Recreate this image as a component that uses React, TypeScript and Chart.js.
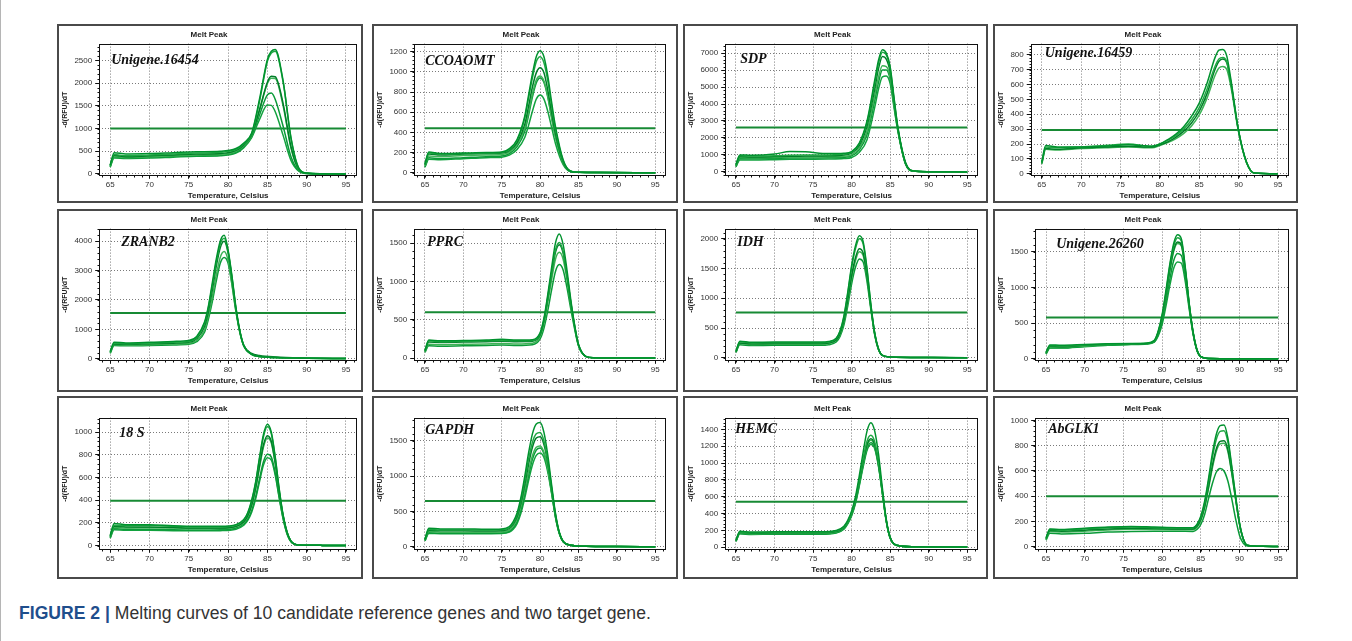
import React, { useEffect, useRef } from 'react';
import { Chart, registerables } from 'chart.js';

Chart.register(...registerables);

const FONT = '"Liberation Sans", Arial, sans-serif';
const SERIF = '"Liberation Serif", "Times New Roman", serif';

const X_TICKS = [65, 70, 75, 80, 85, 90, 95];
const X_RANGE = [63.6, 96.4];
const THRESHOLD_SPAN = [65, 95];

// ---------- Panel 1: Unigene.16454 ----------
const GENE_1 = 'Unigene.16454';
const TEMPS_1 = [65, 65.5, 67, 70, 73, 76, 79, 81, 82, 83, 84, 85, 85.5, 86, 87, 88, 89, 90, 92, 95];
const CURVES_1 = [
  [200, 470, 440, 450, 470, 490, 500, 560, 680, 900, 1650, 2520, 2700, 2740, 2050, 800, 130, 20, 5, 0],
  [180, 430, 400, 420, 440, 460, 480, 540, 660, 880, 1600, 2480, 2660, 2700, 2020, 780, 120, 20, 5, 0],
  [190, 410, 380, 400, 420, 440, 450, 520, 640, 860, 1420, 2020, 2150, 2140, 1550, 600, 100, 15, 5, 0],
  [170, 390, 360, 380, 400, 420, 430, 500, 620, 840, 1400, 1990, 2110, 2100, 1500, 570, 90, 15, 5, 0],
  [160, 380, 350, 370, 390, 400, 410, 480, 600, 820, 1300, 1740, 1780, 1640, 1050, 380, 70, 10, 5, 0],
  [150, 350, 340, 350, 370, 390, 400, 460, 580, 800, 1200, 1520, 1510, 1370, 850, 300, 60, 10, 5, 0],
];
const THRESHOLD_1 = 1000;
const Y_TICKS_1 = [0, 500, 1000, 1500, 2000, 2500];
const Y_RANGE_1 = [-40, 2870];

// ---------- Panel 2: CCOAOMT ----------
const GENE_2 = 'CCOAOMT';
const TEMPS_2 = [65, 65.5, 67, 70, 73, 75, 76, 77, 78, 78.5, 79, 79.5, 80, 80.5, 81, 81.5, 82, 83, 84, 85, 88, 95];
const CURVES_2 = [
  [90, 205, 190, 195, 200, 205, 240, 330, 560, 770, 980, 1150, 1210, 1150, 960, 700, 460, 130, 15, 5, 2, 0],
  [85, 195, 185, 190, 195, 200, 230, 320, 540, 740, 940, 1100, 1150, 1090, 910, 660, 430, 120, 15, 5, 2, 0],
  [80, 185, 175, 185, 190, 195, 220, 300, 480, 660, 850, 990, 1040, 990, 820, 600, 390, 110, 12, 5, 2, 0],
  [70, 165, 160, 170, 175, 180, 205, 280, 440, 600, 780, 920, 960, 910, 760, 550, 360, 100, 12, 5, 2, 0],
  [60, 150, 140, 150, 160, 165, 190, 260, 410, 570, 750, 890, 940, 895, 750, 545, 355, 100, 12, 5, 2, 0],
  [55, 135, 130, 140, 150, 155, 175, 230, 350, 470, 610, 730, 770, 730, 610, 450, 290, 80, 10, 4, 2, 0],
];
const THRESHOLD_2 = 440;
const Y_TICKS_2 = [0, 200, 400, 600, 800, 1000, 1200];
const Y_RANGE_2 = [-30, 1280];

// ---------- Panel 3: SDP ----------
const GENE_3 = 'SDP';
const TEMPS_3 = [65, 65.5, 67, 70, 72, 74, 77, 79, 80, 81, 82, 83, 83.5, 84, 84.5, 85, 85.5, 86, 87, 88, 90, 95];
const CURVES_3 = [
  [450, 1000, 980, 1050, 1200, 1180, 1080, 1100, 1200, 1700, 3000, 5400, 6600, 7200, 7000, 6200, 4400, 2650, 550, 60, 10, 0],
  [400, 950, 930, 950, 980, 990, 1000, 1050, 1150, 1650, 2900, 5200, 6400, 7050, 6900, 6100, 4300, 2600, 520, 55, 10, 0],
  [380, 900, 880, 900, 920, 930, 950, 1000, 1100, 1550, 2700, 4900, 6100, 6800, 6650, 5900, 4200, 2550, 500, 50, 10, 0],
  [350, 850, 830, 850, 870, 880, 890, 920, 1000, 1400, 2400, 4500, 5600, 6250, 6200, 5600, 4000, 2500, 480, 50, 10, 0],
  [330, 780, 780, 800, 820, 820, 830, 860, 950, 1300, 2200, 4200, 5300, 6000, 6000, 5450, 3950, 2450, 470, 50, 10, 0],
  [300, 700, 700, 720, 740, 750, 760, 790, 850, 1150, 1900, 3800, 4900, 5600, 5650, 5200, 3800, 2400, 460, 50, 10, 0],
];
const THRESHOLD_3 = 2620;
const Y_TICKS_3 = [0, 1000, 2000, 3000, 4000, 5000, 6000, 7000];
const Y_RANGE_3 = [-230, 7560];

// ---------- Panel 4: Unigene.16459 ----------
const GENE_4 = 'Unigene.16459';
const TEMPS_4 = [65, 65.5, 67, 70, 73, 76, 79, 80, 81, 82, 83, 84, 85, 86, 87, 87.5, 88, 88.5, 89, 90, 91, 92, 95];
const CURVES_4 = [
  [80, 190, 180, 180, 185, 195, 185, 200, 230, 265, 315, 385, 475, 610, 780, 830, 835, 790, 640, 290, 80, 5, 0],
  [75, 180, 175, 180, 190, 200, 185, 200, 225, 255, 300, 360, 445, 570, 720, 770, 780, 750, 620, 285, 78, 5, 0],
  [70, 170, 165, 175, 180, 185, 180, 195, 215, 245, 285, 340, 420, 540, 700, 755, 770, 745, 615, 285, 78, 5, 0],
  [65, 165, 160, 170, 175, 180, 175, 190, 210, 235, 270, 320, 395, 510, 660, 710, 720, 700, 590, 280, 75, 5, 0],
];
const THRESHOLD_4 = 295;
const Y_TICKS_4 = [0, 100, 200, 300, 400, 500, 600, 700, 800];
const Y_RANGE_4 = [-13, 874];

// ---------- Panel 5: ZRANB2 ----------
const GENE_5 = 'ZRANB2';
const TEMPS_5 = [65, 65.5, 67, 70, 73, 75, 76, 77, 77.5, 78, 78.5, 79, 79.5, 80, 80.5, 81, 81.5, 82, 83, 84, 86, 90, 95];
const CURVES_5 = [
  [250, 560, 540, 560, 590, 620, 760, 1250, 1800, 2600, 3400, 4000, 4200, 3700, 2800, 1750, 950, 450, 150, 80, 40, 15, 5],
  [230, 530, 510, 530, 560, 590, 720, 1200, 1750, 2500, 3300, 3900, 4100, 3650, 2750, 1700, 930, 440, 150, 80, 40, 15, 5],
  [220, 500, 490, 510, 530, 560, 680, 1100, 1620, 2350, 3150, 3780, 4000, 3600, 2700, 1680, 920, 450, 180, 110, 60, 25, 5],
  [200, 480, 470, 480, 500, 520, 620, 980, 1450, 2100, 2850, 3450, 3650, 3350, 2550, 1620, 900, 440, 150, 80, 40, 15, 5],
  [180, 450, 440, 450, 470, 490, 580, 900, 1350, 1950, 2650, 3250, 3450, 3250, 2500, 1600, 890, 430, 150, 80, 40, 15, 5],
];
const THRESHOLD_5 = 1560;
const Y_TICKS_5 = [0, 1000, 2000, 3000, 4000];
const Y_RANGE_5 = [-70, 4430];

// ---------- Panel 6: PPRC ----------
const GENE_6 = 'PPRC';
const TEMPS_6 = [65, 65.5, 67, 70, 73, 75, 77, 79, 80, 80.5, 81, 81.5, 82, 82.5, 83, 83.5, 84, 84.5, 85, 86, 87, 90, 95];
const CURVES_6 = [
  [100, 235, 225, 230, 235, 245, 235, 240, 330, 520, 830, 1180, 1500, 1620, 1480, 1150, 760, 430, 180, 20, 5, 2, 0],
  [95, 225, 215, 220, 225, 230, 225, 230, 320, 500, 800, 1120, 1410, 1510, 1390, 1090, 730, 420, 175, 20, 5, 2, 0],
  [90, 210, 205, 210, 215, 220, 215, 220, 305, 485, 780, 1100, 1380, 1480, 1370, 1080, 720, 415, 170, 20, 5, 2, 0],
  [80, 180, 175, 180, 185, 190, 185, 195, 280, 450, 720, 1020, 1290, 1380, 1290, 1020, 690, 400, 165, 20, 5, 2, 0],
  [75, 160, 155, 160, 165, 170, 165, 175, 250, 390, 620, 890, 1130, 1220, 1150, 920, 640, 380, 160, 20, 5, 2, 0],
];
const THRESHOLD_6 = 600;
const Y_TICKS_6 = [0, 500, 1000, 1500];
const Y_RANGE_6 = [-35, 1690];

// ---------- Panel 7: IDH ----------
const GENE_7 = 'IDH';
const TEMPS_7 = [65, 65.5, 67, 70, 73, 76, 77, 78, 78.5, 79, 79.5, 80, 80.5, 81, 81.5, 82, 82.5, 83, 83.5, 84, 85, 90, 95];
const CURVES_7 = [
  [110, 280, 260, 265, 265, 265, 275, 330, 450, 700, 1100, 1550, 1880, 2050, 1950, 1500, 900, 420, 150, 40, 15, 5, 0],
  [105, 270, 250, 255, 255, 255, 265, 320, 440, 680, 1070, 1510, 1830, 2000, 1910, 1470, 880, 410, 145, 40, 15, 5, 0],
  [100, 250, 235, 240, 240, 240, 250, 300, 410, 630, 980, 1380, 1680, 1830, 1760, 1380, 850, 400, 140, 40, 15, 5, 0],
  [95, 240, 225, 230, 230, 230, 240, 290, 390, 600, 940, 1330, 1630, 1780, 1720, 1350, 840, 395, 140, 40, 15, 5, 0],
  [90, 220, 205, 210, 210, 210, 220, 265, 360, 550, 870, 1240, 1520, 1660, 1610, 1280, 810, 385, 135, 40, 15, 5, 0],
];
const THRESHOLD_7 = 760;
const Y_TICKS_7 = [0, 500, 1000, 1500, 2000];
const Y_RANGE_7 = [-50, 2170];

// ---------- Panel 8: Unigene.26260 ----------
const GENE_8 = 'Unigene.26260';
const TEMPS_8 = [65, 65.5, 67, 70, 73, 76, 78, 79, 79.5, 80, 80.5, 81, 81.5, 82, 82.5, 83, 83.5, 84, 84.5, 85, 86, 90, 95];
const CURVES_8 = [
  [90, 195, 190, 200, 210, 215, 220, 260, 390, 620, 960, 1330, 1620, 1740, 1680, 1280, 780, 380, 130, 30, 5, 2, 0],
  [85, 185, 180, 195, 205, 212, 218, 255, 380, 600, 930, 1300, 1580, 1700, 1650, 1260, 770, 375, 130, 30, 5, 2, 0],
  [80, 175, 170, 190, 205, 212, 216, 250, 370, 580, 900, 1250, 1530, 1640, 1600, 1230, 760, 370, 125, 30, 5, 2, 0],
  [75, 165, 165, 180, 200, 210, 214, 248, 365, 570, 880, 1230, 1510, 1620, 1580, 1220, 755, 368, 125, 30, 5, 2, 0],
  [70, 155, 155, 175, 195, 205, 210, 240, 340, 520, 810, 1120, 1380, 1480, 1450, 1150, 730, 360, 120, 30, 5, 2, 0],
  [65, 150, 150, 170, 190, 200, 208, 235, 320, 480, 740, 1030, 1270, 1360, 1340, 1080, 700, 350, 120, 30, 5, 2, 0],
];
const THRESHOLD_8 = 580;
const Y_TICKS_8 = [0, 500, 1000, 1500];
const Y_RANGE_8 = [-28, 1828];

// ---------- Panel 9: 18 S ----------
const GENE_9 = '18 S';
const TEMPS_9 = [65, 65.5, 67, 70, 73, 76, 79, 81, 82, 82.5, 83, 83.5, 84, 84.5, 85, 85.5, 86, 86.5, 87, 87.5, 88, 89, 92, 95];
const CURVES_9 = [
  [90, 195, 185, 185, 175, 170, 170, 185, 230, 290, 400, 560, 780, 980, 1070, 1000, 780, 500, 270, 120, 40, 5, 2, 0],
  [85, 180, 175, 178, 170, 165, 165, 180, 225, 285, 390, 550, 765, 960, 1050, 985, 770, 495, 265, 118, 40, 5, 2, 0],
  [80, 170, 165, 165, 160, 155, 155, 170, 210, 265, 360, 510, 705, 890, 970, 920, 730, 475, 260, 115, 38, 5, 2, 0],
  [75, 160, 155, 158, 155, 150, 150, 165, 205, 258, 350, 495, 690, 870, 950, 905, 720, 470, 255, 112, 38, 5, 2, 0],
  [70, 150, 145, 145, 140, 138, 140, 155, 190, 235, 310, 430, 590, 740, 805, 780, 640, 430, 240, 105, 35, 5, 2, 0],
  [65, 140, 135, 135, 132, 130, 132, 145, 180, 222, 295, 410, 565, 710, 775, 755, 620, 420, 235, 102, 34, 5, 2, 0],
];
const THRESHOLD_9 = 395;
const Y_TICKS_9 = [0, 200, 400, 600, 800, 1000];
const Y_RANGE_9 = [-37, 1129];

// ---------- Panel 10: GAPDH ----------
const GENE_10 = 'GAPDH';
const TEMPS_10 = [65, 65.5, 67, 70, 73, 75, 76, 76.5, 77, 77.5, 78, 78.5, 79, 79.5, 80, 80.5, 81, 81.5, 82, 82.5, 83, 84, 86, 90, 95];
const CURVES_10 = [
  [110, 265, 255, 255, 250, 255, 290, 360, 480, 700, 1000, 1330, 1600, 1740, 1760, 1620, 1300, 880, 480, 210, 80, 25, 10, 5, 2],
  [105, 250, 240, 240, 238, 242, 275, 340, 455, 660, 940, 1240, 1480, 1600, 1620, 1500, 1220, 840, 460, 205, 80, 25, 10, 5, 2],
  [100, 235, 228, 228, 226, 230, 262, 322, 430, 620, 880, 1170, 1410, 1540, 1560, 1450, 1190, 820, 450, 200, 78, 25, 10, 5, 2],
  [95, 220, 210, 210, 208, 212, 240, 295, 395, 570, 810, 1070, 1290, 1410, 1430, 1340, 1110, 780, 430, 195, 76, 25, 10, 5, 2],
  [90, 200, 195, 195, 195, 198, 222, 270, 360, 520, 750, 1010, 1240, 1370, 1400, 1320, 1100, 775, 430, 195, 76, 25, 10, 5, 2],
  [85, 190, 188, 188, 188, 190, 210, 250, 330, 475, 690, 940, 1160, 1295, 1330, 1265, 1060, 755, 420, 190, 75, 25, 10, 5, 2],
];
const THRESHOLD_10 = 650;
const Y_TICKS_10 = [0, 500, 1000, 1500];
const Y_RANGE_10 = [-40, 1830];

// ---------- Panel 11: HEMC ----------
const GENE_11 = 'HEMC';
const TEMPS_11 = [65, 65.5, 67, 70, 73, 76, 78, 79, 79.5, 80, 80.5, 81, 81.5, 82, 82.5, 83, 83.5, 84, 84.5, 85, 86, 88, 95];
const CURVES_11 = [
  [85, 190, 180, 185, 185, 185, 200, 250, 320, 430, 600, 850, 1130, 1380, 1480, 1380, 1100, 700, 330, 120, 20, 5, 2],
  [80, 180, 172, 178, 178, 178, 192, 240, 305, 410, 570, 800, 1050, 1260, 1330, 1250, 1010, 660, 320, 115, 20, 5, 2],
  [78, 175, 168, 172, 172, 172, 186, 235, 300, 400, 555, 780, 1020, 1220, 1290, 1220, 990, 650, 315, 113, 20, 5, 2],
  [75, 170, 162, 166, 166, 166, 180, 228, 292, 392, 545, 765, 1000, 1200, 1270, 1205, 980, 645, 312, 112, 20, 5, 2],
  [72, 165, 158, 160, 160, 160, 175, 222, 285, 382, 530, 745, 975, 1170, 1240, 1185, 965, 640, 310, 110, 20, 5, 2],
  [70, 160, 152, 155, 155, 155, 170, 215, 278, 372, 518, 730, 955, 1150, 1220, 1170, 955, 635, 308, 110, 20, 5, 2],
];
const THRESHOLD_11 = 540;
const Y_TICKS_11 = [0, 200, 400, 600, 800, 1000, 1200, 1400];
const Y_RANGE_11 = [-30, 1540];

// ---------- Panel 12: AbGLK1 ----------
const GENE_12 = 'AbGLK1';
const TEMPS_12 = [65, 65.5, 67, 70, 73, 76, 79, 82, 84, 84.5, 85, 85.5, 86, 86.5, 87, 87.5, 88, 88.5, 89, 89.5, 90, 90.5, 91, 93, 95];
const CURVES_12 = [
  [70, 140, 135, 145, 155, 160, 155, 150, 150, 175, 240, 360, 540, 740, 890, 960, 965, 860, 640, 400, 190, 60, 10, 2, 0],
  [65, 135, 130, 140, 150, 155, 150, 148, 148, 170, 230, 345, 515, 705, 850, 915, 920, 830, 625, 395, 185, 60, 10, 2, 0],
  [60, 128, 122, 130, 140, 145, 143, 140, 140, 160, 215, 320, 475, 645, 775, 835, 840, 770, 590, 380, 180, 58, 10, 2, 0],
  [55, 120, 115, 122, 132, 138, 136, 134, 134, 152, 205, 305, 460, 625, 755, 815, 820, 755, 580, 375, 178, 58, 10, 2, 0],
  [50, 105, 100, 105, 115, 120, 122, 122, 120, 135, 175, 255, 380, 500, 590, 620, 600, 520, 380, 220, 90, 25, 5, 2, 0],
];
const THRESHOLD_12 = 400;
const Y_TICKS_12 = [0, 200, 400, 600, 800, 1000];
const Y_RANGE_12 = [-26, 1024];

const CHART_TITLE = 'Melt Peak';
const X_TITLE = 'Temperature, Celsius';
const Y_TITLE = '-d(RFU)/dT';
const CAPTION_LEAD = 'FIGURE 2 |';
const CAPTION_TEXT = ' Melting curves of 10 candidate reference genes and two target gene.';

type Panel = {
  gene: string;
  temps: number[];
  curves: number[][];
  threshold: number;
  yTicks: number[];
  yRange: number[];
};

const PANELS: Panel[] = [
  { gene: GENE_1, temps: TEMPS_1, curves: CURVES_1, threshold: THRESHOLD_1, yTicks: Y_TICKS_1, yRange: Y_RANGE_1 },
  { gene: GENE_2, temps: TEMPS_2, curves: CURVES_2, threshold: THRESHOLD_2, yTicks: Y_TICKS_2, yRange: Y_RANGE_2 },
  { gene: GENE_3, temps: TEMPS_3, curves: CURVES_3, threshold: THRESHOLD_3, yTicks: Y_TICKS_3, yRange: Y_RANGE_3 },
  { gene: GENE_4, temps: TEMPS_4, curves: CURVES_4, threshold: THRESHOLD_4, yTicks: Y_TICKS_4, yRange: Y_RANGE_4 },
  { gene: GENE_5, temps: TEMPS_5, curves: CURVES_5, threshold: THRESHOLD_5, yTicks: Y_TICKS_5, yRange: Y_RANGE_5 },
  { gene: GENE_6, temps: TEMPS_6, curves: CURVES_6, threshold: THRESHOLD_6, yTicks: Y_TICKS_6, yRange: Y_RANGE_6 },
  { gene: GENE_7, temps: TEMPS_7, curves: CURVES_7, threshold: THRESHOLD_7, yTicks: Y_TICKS_7, yRange: Y_RANGE_7 },
  { gene: GENE_8, temps: TEMPS_8, curves: CURVES_8, threshold: THRESHOLD_8, yTicks: Y_TICKS_8, yRange: Y_RANGE_8 },
  { gene: GENE_9, temps: TEMPS_9, curves: CURVES_9, threshold: THRESHOLD_9, yTicks: Y_TICKS_9, yRange: Y_RANGE_9 },
  { gene: GENE_10, temps: TEMPS_10, curves: CURVES_10, threshold: THRESHOLD_10, yTicks: Y_TICKS_10, yRange: Y_RANGE_10 },
  { gene: GENE_11, temps: TEMPS_11, curves: CURVES_11, threshold: THRESHOLD_11, yTicks: Y_TICKS_11, yRange: Y_RANGE_11 },
  { gene: GENE_12, temps: TEMPS_12, curves: CURVES_12, threshold: THRESHOLD_12, yTicks: Y_TICKS_12, yRange: Y_RANGE_12 },
];

// ---------- layout & style (kept apart from the data) ----------
const COL_X = [57, 372, 683, 993];
const COL_W = [306, 306, 305, 305];
const COL_PAD_RIGHT = [4, 10, 8, 7];
const ROW_Y = [24, 209, 396];
const ROW_H = [179, 183, 183];
const ROW_PAD = [
  { top: 0, bottom: 0 },
  { top: 0, bottom: 4 },
  { top: 2, bottom: 2 },
];
const LABEL_POS = [
  [12, 20], [11, 21], [15, 19], [14, 13],
  [22, 17], [13, 17], [12, 17], [21, 19],
  [20, 19], [11, 16], [10, 15], [13, 15],
];
const CURVE_COLORS = ['#00922e', '#1fa843', '#007d28', '#3db356', '#0a9a38', '#13a23f'];
const THRESHOLD_COLOR = '#178a34';
const BORDER = 2;

function makeFramePlugin(label: string, dx: number, dy: number, yTicks: number[]) {
  return {
    id: 'meltFrame',
    afterDatasetsDraw(chart: any) {
      const { ctx, chartArea: a, scales } = chart;
      const l = Math.round(a.left) + 0.5;
      const t = Math.round(a.top) + 0.5;
      const r = Math.round(a.right) - 0.5;
      const b = Math.round(a.bottom) - 0.5;
      ctx.save();
      ctx.setLineDash([]);
      ctx.strokeStyle = '#111';
      ctx.lineWidth = 1;
      ctx.strokeRect(l, t, r - l, b - t);
      ctx.beginPath();
      const xs = scales.x;
      const ys = scales.y;
      for (let v = Math.ceil(xs.min); v <= xs.max; v += 1) {
        const px = Math.round(xs.getPixelForValue(v)) + 0.5;
        ctx.moveTo(px, b);
        ctx.lineTo(px, b + 2);
      }
      const step = (yTicks[1] - yTicks[0]) / 5;
      for (let v = Math.ceil(ys.min / step) * step; v <= ys.max; v += step) {
        const py = Math.round(ys.getPixelForValue(v)) + 0.5;
        ctx.moveTo(l - 2, py);
        ctx.lineTo(l, py);
      }
      ctx.stroke();
      ctx.font = `italic bold 14px ${SERIF}`;
      ctx.fillStyle = '#111';
      ctx.textBaseline = 'alphabetic';
      ctx.fillText(label, a.left + dx, a.top + dy);
      ctx.restore();
    },
  };
}

function MeltPanel({ index }: { index: number }) {
  const ref = useRef<HTMLCanvasElement | null>(null);
  const panel = PANELS[index];
  const col = index % 4;
  const row = Math.floor(index / 4);
  const w = COL_W[col] - BORDER * 2;
  const h = ROW_H[row] - BORDER * 2;

  useEffect(() => {
    if (!ref.current) return;
    const datasets: any[] = panel.curves.map((c, i) => ({
      data: panel.temps.map((t, j) => ({ x: t, y: c[j] })),
      borderColor: CURVE_COLORS[i % CURVE_COLORS.length],
      borderWidth: 1.5,
      pointRadius: 0,
      cubicInterpolationMode: 'monotone',
      fill: false,
    }));
    datasets.push({
      data: THRESHOLD_SPAN.map((t) => ({ x: t, y: panel.threshold })),
      borderColor: THRESHOLD_COLOR,
      borderWidth: 2,
      pointRadius: 0,
      fill: false,
    });
    const tickFont = { size: 8, family: FONT };
    const titleFont = { size: 8, family: FONT, weight: 'bold' as const };
    const [dx, dy] = LABEL_POS[index];
    const chart = new Chart(ref.current, {
      type: 'line',
      data: { datasets },
      options: {
        animation: false,
        responsive: false,
        events: [],
        layout: {
          padding: { left: 2, right: COL_PAD_RIGHT[col], top: ROW_PAD[row].top, bottom: ROW_PAD[row].bottom },
        },
        plugins: {
          legend: { display: false },
          tooltip: { enabled: false },
          title: {
            display: true,
            text: CHART_TITLE,
            color: '#222',
            font: titleFont,
            padding: { top: 4, bottom: 4 },
          },
        },
        scales: {
          x: {
            type: 'linear',
            min: X_RANGE[0],
            max: X_RANGE[1],
            afterBuildTicks: (axis: any) => {
              axis.ticks = X_TICKS.map((v) => ({ value: v }));
            },
            ticks: {
              font: tickFont,
              color: '#333',
              padding: 1,
              maxRotation: 0,
              autoSkip: false,
              callback: (v: any) => String(v),
            },
            grid: { color: '#7a7a7a', lineWidth: 1, drawTicks: true, tickLength: 3, tickColor: '#111', tickWidth: 1 },
            border: { display: false, dash: [1, 2] },
            title: { display: true, text: X_TITLE, color: '#222', font: titleFont, padding: { top: 1, bottom: 0 } },
          },
          y: {
            type: 'linear',
            min: panel.yRange[0],
            max: panel.yRange[1],
            afterBuildTicks: (axis: any) => {
              axis.ticks = panel.yTicks.map((v) => ({ value: v }));
            },
            ticks: {
              font: tickFont,
              color: '#333',
              padding: 3,
              autoSkip: false,
              callback: (v: any) => String(v),
            },
            grid: { color: '#7a7a7a', lineWidth: 1, drawTicks: true, tickLength: 4, tickColor: '#111', tickWidth: 1 },
            border: { display: false, dash: [1, 2] },
            title: {
              display: true,
              text: Y_TITLE,
              color: '#222',
              font: { size: 7, family: FONT, weight: 'bold' as const },
              padding: { top: 0, bottom: 2 },
            },
          },
        },
      } as any,
      plugins: [makeFramePlugin(panel.gene, dx, dy, panel.yTicks)],
    });
    return () => chart.destroy();
  }, [index]);

  return (
    <div
      style={{
        position: 'absolute',
        left: COL_X[col],
        top: ROW_Y[row],
        width: COL_W[col],
        height: ROW_H[row],
        boxSizing: 'border-box',
        border: `${BORDER}px solid #4a4a4a`,
        background: '#fff',
      }}
    >
      <canvas ref={ref} width={w} height={h} style={{ display: 'block', width: w, height: h }} />
    </div>
  );
}

export default function App() {
  return (
    <div
      style={{
        position: 'absolute',
        left: 0,
        top: 0,
        width: 1352,
        height: 641,
        background: '#fff',
        overflow: 'hidden',
      }}
    >
      <div style={{ position: 'absolute', left: 0, top: 0, width: 1, height: 641, background: '#b5b5b5' }} />
      {PANELS.map((_, i) => (
        <MeltPanel key={i} index={i} />
      ))}
      <div
        style={{
          position: 'absolute',
          left: 19,
          top: 602,
          fontFamily: FONT,
          fontSize: 17.6,
          lineHeight: '22px',
          color: '#333',
          whiteSpace: 'nowrap',
        }}
      >
        <span style={{ fontWeight: 'bold', color: '#1f4e8c' }}>{CAPTION_LEAD}</span>
        <span>{CAPTION_TEXT}</span>
      </div>
    </div>
  );
}
